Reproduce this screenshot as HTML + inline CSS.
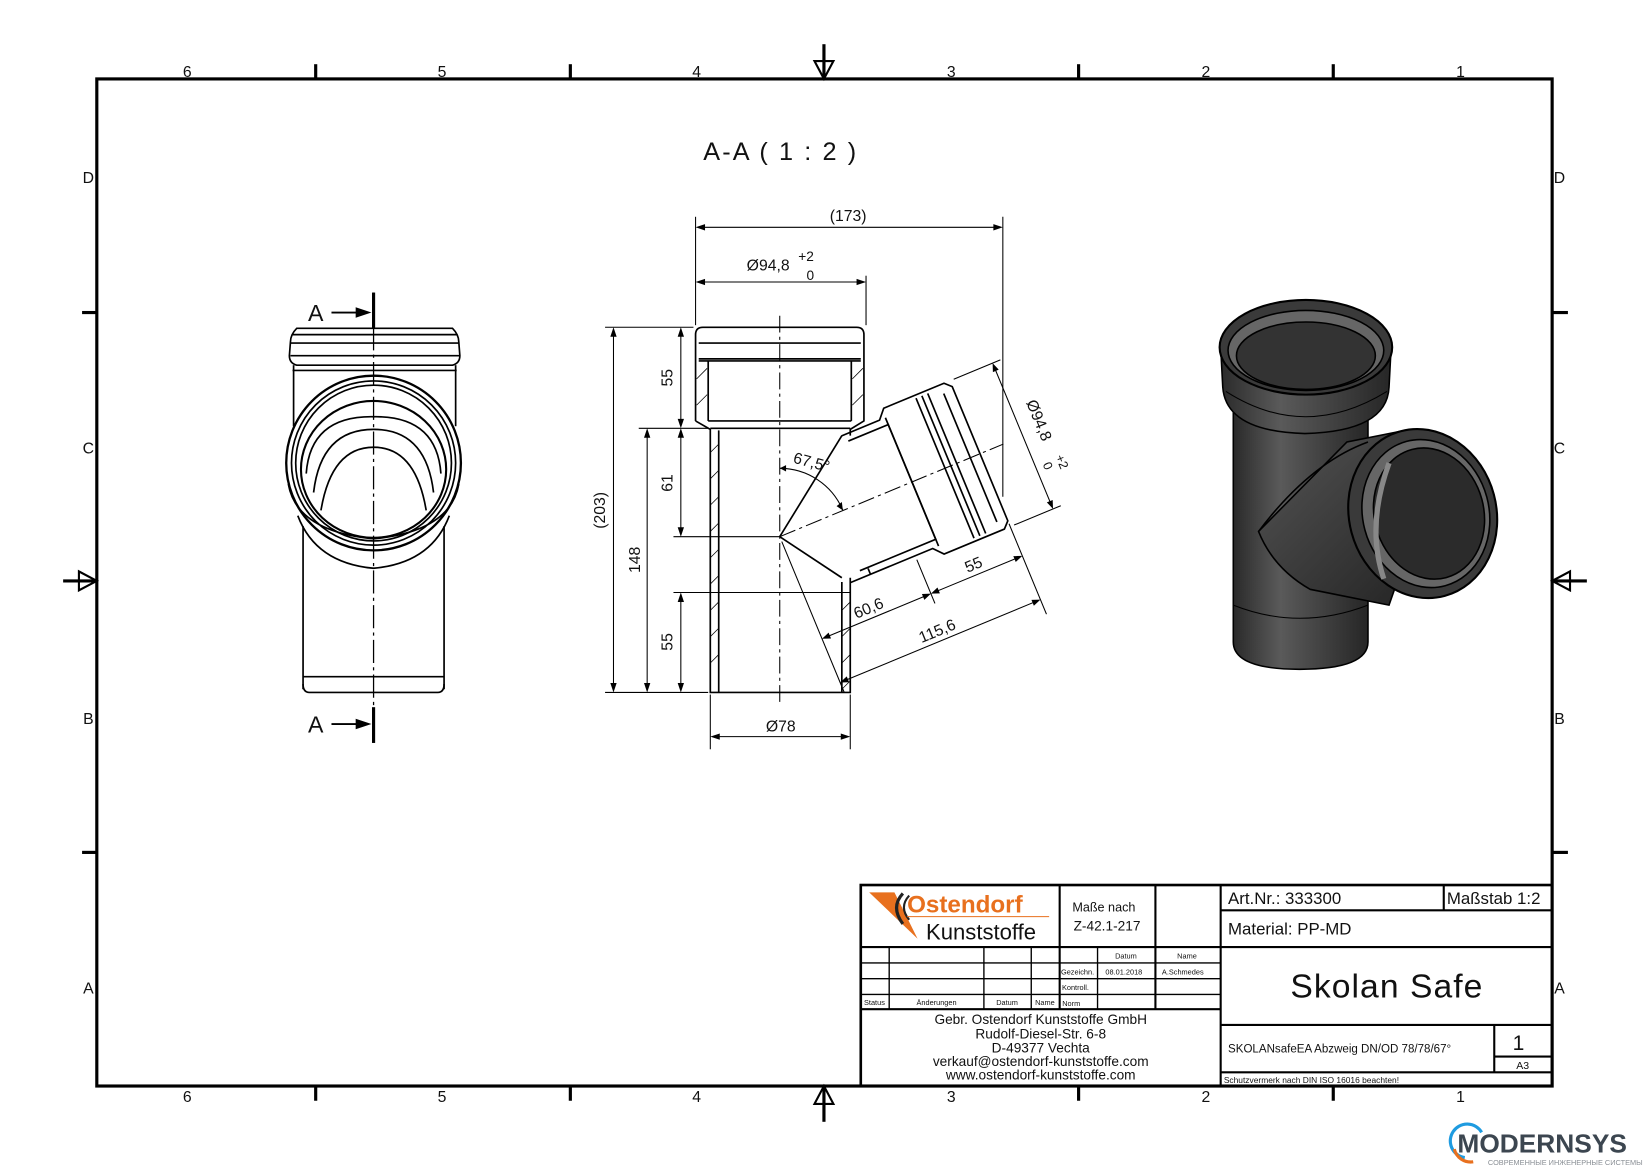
<!DOCTYPE html>
<html><head><meta charset="utf-8"><style>
html,body{margin:0;padding:0;background:#fff;}
svg{display:block;}
text{font-family:"Liberation Sans Narrow","Liberation Sans",sans-serif;fill:#111;}
</style></head><body>
<svg width="1650" height="1166" viewBox="0 0 1568 1108" preserveAspectRatio="none" xmlns="http://www.w3.org/2000/svg">
<defs>
<linearGradient id="gp" x1="0" x2="1" y1="0" y2="0"><stop offset="0" stop-color="#2a2a2a"/><stop offset="0.35" stop-color="#5a5a5a"/><stop offset="1" stop-color="#262626"/></linearGradient>
<linearGradient id="gb" x1="0" x2="1" y1="0" y2="1"><stop offset="0" stop-color="#555"/><stop offset="1" stop-color="#222"/></linearGradient>
</defs>
<rect x="92" y="75" width="1383" height="957" fill="none" stroke="#000" stroke-width="3"/>
<g stroke="#000" stroke-width="3">
<line x1="300" y1="61" x2="300" y2="75"/><line x1="542" y1="61" x2="542" y2="75"/><line x1="1025" y1="61" x2="1025" y2="75"/><line x1="1267" y1="61" x2="1267" y2="75"/>
<line x1="300" y1="1032" x2="300" y2="1046"/><line x1="542" y1="1032" x2="542" y2="1046"/><line x1="1025" y1="1032" x2="1025" y2="1046"/><line x1="1267" y1="1032" x2="1267" y2="1046"/>
<line x1="78" y1="297" x2="92" y2="297"/><line x1="78" y1="810" x2="92" y2="810"/><line x1="1475" y1="297" x2="1490" y2="297"/><line x1="1475" y1="810" x2="1490" y2="810"/>
<line x1="783" y1="42" x2="783" y2="75"/><line x1="783" y1="1032" x2="783" y2="1066"/><line x1="60" y1="552" x2="92" y2="552"/><line x1="1475" y1="552" x2="1508" y2="552"/>
</g>
<g fill="none" stroke="#000" stroke-width="2">
<path d="M774,58 L792,58 L783,75 Z"/><path d="M774,1049 L792,1049 L783,1032 Z"/><path d="M75,543 L75,561 L92,552 Z"/><path d="M1492,543 L1492,561 L1475,552 Z"/>
</g>
<g font-size="15" text-anchor="middle">
<text x="178" y="73">6</text><text x="420" y="73">5</text><text x="662" y="73">4</text><text x="904" y="73">3</text><text x="1146" y="73">2</text><text x="1388" y="73">1</text>
<text x="178" y="1047">6</text><text x="420" y="1047">5</text><text x="662" y="1047">4</text><text x="904" y="1047">3</text><text x="1146" y="1047">2</text><text x="1388" y="1047">1</text>
<text x="84" y="174">D</text><text x="84" y="431">C</text><text x="84" y="688">B</text><text x="84" y="944">A</text>
<text x="1482" y="174">D</text><text x="1482" y="431">C</text><text x="1482" y="688">B</text><text x="1482" y="944">A</text>
</g>
<text x="742" y="152" font-size="24" text-anchor="middle" letter-spacing="2">A-A ( 1 : 2 )</text>

<g fill="none" stroke="#000" stroke-width="1.6">
<path d="M282,312 L430,312 Q436,318 436,325 L437,338 Q437,345 430,347 L282,347 Q275,345 275,338 L276,325 Q276,318 282,312 Z"/>
<line x1="278" y1="318" x2="434" y2="318"/><line x1="276" y1="326" x2="436" y2="326"/><line x1="276" y1="338" x2="437" y2="338"/>
<line x1="278" y1="352" x2="434" y2="352"/>
<line x1="279" y1="347" x2="279" y2="405"/><line x1="433" y1="347" x2="433" y2="405"/>
<circle cx="355" cy="440" r="83" stroke-width="2.2"/>
<circle cx="355" cy="440" r="78"/><circle cx="355" cy="440" r="74"/>
<ellipse cx="355" cy="446" rx="69" ry="65" stroke-width="2"/>
<path d="M291,450 Q295,395 355,396 Q415,395 419,450"/>
<path d="M298,468 Q305,408 355,408 Q405,408 412,468"/>
<path d="M305,485 Q315,425 355,425 Q395,425 405,485"/>
<path d="M274,460 Q282,505 355,512 Q428,505 436,460"/>
<path d="M283,490 Q300,535 355,540 Q410,535 427,490"/>
<line x1="288" y1="500" x2="288" y2="655"/><line x1="422" y1="500" x2="422" y2="655"/>
<line x1="288" y1="643" x2="422" y2="643"/>
<path d="M288,650 Q288,658 294,658 L416,658 Q422,658 422,650"/>
</g>
<line x1="355" y1="278" x2="355" y2="706" stroke="#000" stroke-width="1.2" stroke-dasharray="22,4,3,4"/>
<g stroke="#000" stroke-width="3"><line x1="355" y1="278" x2="355" y2="312"/><line x1="355" y1="672" x2="355" y2="706"/></g>
<g stroke="#000" stroke-width="1.8"><line x1="315" y1="297" x2="340" y2="297"/><line x1="315" y1="688" x2="340" y2="688"/></g>
<path d="M338,292 L353,297 L338,302 Z M338,683 L353,688 L338,693 Z" fill="#000"/>
<text x="300" y="305" font-size="22" text-anchor="middle">A</text><text x="300" y="696" font-size="22" text-anchor="middle">A</text>

<g transform="translate(741,510) rotate(-22.5)">
<path d="M91,-66 L130,-66 L138,-75 L200,-75 L206,-69 L206,69 L200,75 L138,75 L130,66 L45,66 Z" fill="#fff" stroke="none"/>
<g fill="none" stroke="#000" stroke-width="1.6">
<path d="M91,-66 L130,-66 L138,-75 L200,-75 L206,-69 L206,69 L200,75 L138,75 L130,66 L45,66"/>
<path d="M95,-59 L136,-59 L136,59 L58,59"/>
<line x1="136" y1="-66" x2="136" y2="66"/>
<line x1="170" y1="-72" x2="170" y2="72"/><line x1="176" y1="-72" x2="176" y2="72"/><line x1="182" y1="-72" x2="182" y2="72"/>
<line x1="196" y1="-66" x2="196" y2="66"/>
<line x1="66" y1="60" x2="66" y2="66"/>
</g>
<line x1="0" y1="0" x2="230" y2="0" stroke="#000" stroke-width="1" stroke-dasharray="16,4,3,4"/>
<g stroke="#000" stroke-width="1" fill="none">
<line x1="0" y1="5" x2="0" y2="160"/><line x1="206" y1="72" x2="206" y2="165"/><line x1="112" y1="70" x2="112" y2="115"/>
<line x1="4" y1="150" x2="202" y2="150"/><line x1="4" y1="105" x2="108" y2="105"/><line x1="116" y1="105" x2="202" y2="105"/>
<line x1="210" y1="-75" x2="258" y2="-75"/><line x1="210" y1="75" x2="258" y2="75"/><line x1="250" y1="-71" x2="250" y2="71"/>
</g>
<g fill="#000">
<path d="M0,150 l8,-3 v6 Z M206,150 l-8,-3 v6 Z M0,105 l8,-3 v6 Z M112,105 l-8,-3 v6 Z M112,105 l8,-3 v6 Z M206,105 l-8,-3 v6 Z M250,-75 l-3,8 h6 Z M250,75 l-3,-8 h6 Z"/>
</g>
<text x="52" y="100" font-size="15" text-anchor="middle">60,6</text>
<text x="160" y="100" font-size="15" text-anchor="middle">55</text>
<text x="104" y="145" font-size="15" text-anchor="middle">115,6</text>
<g transform="translate(265,0) rotate(90)"><text x="-8" y="0" font-size="15" text-anchor="middle">Ø94,8</text><text x="30" y="-6" font-size="12">+2</text><text x="32" y="8" font-size="12">0</text></g>
</g>
<g fill="none" stroke="#000" stroke-width="1.6">
<path d="M661,400 L661,318 Q661,311 668,311 L814,311 Q821,311 821,318 L821,400 L808,408 L808,414"/>
<path d="M661,400 L675,408 L675,658 L808,658 L808,549"/>
<line x1="664" y1="326" x2="818" y2="326"/><line x1="664" y1="341" x2="818" y2="341"/><line x1="664" y1="343" x2="818" y2="343"/>
<line x1="673" y1="343" x2="673" y2="400"/><line x1="809" y1="343" x2="809" y2="400"/>
<line x1="673" y1="400" x2="809" y2="400"/><line x1="675" y1="407" x2="808" y2="407"/>
<line x1="683" y1="409" x2="683" y2="658"/><line x1="800" y1="553" x2="800" y2="658"/>
<line x1="741" y1="510" x2="800" y2="414"/><line x1="741" y1="510" x2="800" y2="549"/>
</g>
<g stroke="#000" stroke-width="0.7">
<path d="M675,430 l8,-8 M675,455 l8,-8 M675,480 l8,-8 M675,505 l8,-8 M675,530 l8,-8 M675,555 l8,-8 M675,580 l8,-8 M675,605 l8,-8 M675,630 l8,-8 M800,580 l8,-8 M800,605 l8,-8 M800,630 l8,-8 M800,655 l8,-8 M662,360 l10,-10 M662,385 l10,-10 M810,360 l10,-10 M810,385 l10,-10"/>
</g>
<line x1="741" y1="300" x2="741" y2="668" stroke="#000" stroke-width="1" stroke-dasharray="16,4,3,4"/>
<path d="M741,445 A65,65 0 0 1 801,485" fill="none" stroke="#000" stroke-width="1"/>
<path d="M741,445 l6,-3 v6 Z M801,485 l-1,-8 l-5,4 Z" fill="#000"/>
<text x="770" y="444" font-size="15" text-anchor="middle" transform="rotate(15 770 444)">67,5°</text>
<g stroke="#000" stroke-width="1" fill="none">
<line x1="661" y1="206" x2="661" y2="309"/><line x1="953" y1="206" x2="953" y2="472"/><line x1="665" y1="216" x2="949" y2="216"/>
<line x1="823" y1="262" x2="823" y2="309"/><line x1="665" y1="268" x2="819" y2="268"/>
<line x1="575" y1="311" x2="659" y2="311"/><line x1="575" y1="658" x2="673" y2="658"/>
<line x1="607" y1="407" x2="673" y2="407"/><line x1="640" y1="510" x2="741" y2="510"/><line x1="640" y1="563" x2="808" y2="563"/>
<line x1="583" y1="315" x2="583" y2="654"/><line x1="615" y1="411" x2="615" y2="654"/>
<line x1="647" y1="315" x2="647" y2="403"/><line x1="647" y1="411" x2="647" y2="506"/><line x1="647" y1="567" x2="647" y2="654"/>
<line x1="675" y1="660" x2="675" y2="712"/><line x1="808" y1="660" x2="808" y2="712"/><line x1="679" y1="700" x2="804" y2="700"/>
</g>
<g fill="#000">
<path d="M661,216 l9,-3 v6 Z M953,216 l-9,-3 v6 Z M661,268 l9,-3 v6 Z M823,268 l-9,-3 v6 Z"/>
<path d="M583,311 l-3,9 h6 Z M583,658 l-3,-9 h6 Z M615,407 l-3,9 h6 Z M615,658 l-3,-9 h6 Z"/>
<path d="M647,311 l-3,9 h6 Z M647,407 l-3,-9 h6 Z M647,407 l-3,9 h6 Z M647,510 l-3,-9 h6 Z M647,563 l-3,9 h6 Z M647,658 l-3,-9 h6 Z"/>
<path d="M675,700 l9,-3 v6 Z M808,700 l-9,-3 v6 Z"/>
</g>
<g font-size="15" text-anchor="middle">
<text x="806" y="210">(173)</text>
<text x="730" y="257">Ø94,8</text><text x="766" y="248" font-size="13">+2</text><text x="770" y="266" font-size="13">0</text>
<text x="742" y="695">Ø78</text>
<text transform="translate(575,485) rotate(-90)">(203)</text>
<text transform="translate(608,532) rotate(-90)">148</text>
<text transform="translate(639,359) rotate(-90)">55</text>
<text transform="translate(639,459) rotate(-90)">61</text>
<text transform="translate(639,610) rotate(-90)">55</text>
</g>

<g stroke="#000" stroke-width="1.5">
<path d="M1172,360 L1172,610 Q1172,636 1235,636 Q1300,636 1300,610 L1300,360 Z" fill="url(#gp)"/>
<path d="M1172,575 Q1235,600 1300,575" fill="none" stroke-width="1"/>
<path d="M1160,330 L1162,368 Q1165,410 1240,412 Q1318,410 1320,368 L1322,330 Z" fill="url(#gp)"/>
<path d="M1165,372 Q1240,420 1318,372" fill="none" stroke-width="1"/>
<ellipse cx="1241" cy="330" rx="82" ry="45" fill="#3a3a3a" stroke-width="2"/>
<ellipse cx="1241" cy="333" rx="74" ry="38" fill="#666"/>
<ellipse cx="1241" cy="338" rx="66" ry="32" fill="#333"/>
<path d="M1196,505 L1280,420 L1330,410 L1360,460 L1320,575 L1245,560 Q1210,540 1196,505 Z" fill="url(#gb)"/>
<path d="M1196,505 Q1245,440 1300,420" fill="none"/>
<ellipse cx="1352" cy="488" rx="70" ry="81" fill="#3a3a3a" stroke-width="2" transform="rotate(-15 1352 488)"/>
<ellipse cx="1355" cy="488" rx="60" ry="71" fill="#666" transform="rotate(-15 1355 488)"/>
<ellipse cx="1358" cy="488" rx="52" ry="63" fill="#2b2b2b" transform="rotate(-15 1358 488)"/>
<path d="M1320,440 Q1298,500 1315,550" fill="none" stroke="#888" stroke-width="5"/>
</g>

<g fill="none" stroke="#000">
<rect x="818" y="841" width="657" height="191" stroke-width="2.5"/>
<g stroke-width="2">
<line x1="818" y1="900" x2="1160" y2="900"/><line x1="818" y1="959" x2="1160" y2="959"/>
<line x1="1007" y1="841" x2="1007" y2="959"/><line x1="1098" y1="841" x2="1098" y2="959"/><line x1="1160" y1="841" x2="1160" y2="1032"/>
<line x1="1160" y1="865" x2="1475" y2="865"/><line x1="1160" y1="900" x2="1475" y2="900"/><line x1="1160" y1="974" x2="1475" y2="974"/>
<line x1="1160" y1="1019" x2="1475" y2="1019"/><line x1="1372" y1="841" x2="1372" y2="865"/>
<line x1="1420" y1="974" x2="1420" y2="1019"/><line x1="1420" y1="1004" x2="1475" y2="1004"/>
</g>
<g stroke-width="1.3">
<line x1="818" y1="915" x2="1160" y2="915"/><line x1="818" y1="930" x2="1160" y2="930"/><line x1="818" y1="945" x2="1160" y2="945"/>
<line x1="845" y1="900" x2="845" y2="959"/><line x1="935" y1="900" x2="935" y2="959"/><line x1="980" y1="900" x2="980" y2="959"/><line x1="1043" y1="900" x2="1043" y2="959"/>
</g>
</g>
<path d="M826,848 L850,848 L872,892 Z" fill="#e8701e"/>
<path d="M858,849 Q846,862 858,878" fill="none" stroke="#222" stroke-width="3"/>
<path d="M864,851 Q854,862 864,874" fill="none" stroke="#222" stroke-width="2"/>
<text x="862" y="867" font-size="23" style="fill:#e8701e;font-weight:bold">Ostendorf</text>
<line x1="862" y1="871" x2="997" y2="871" stroke="#e8701e" stroke-width="1"/>
<text x="880" y="893" font-size="21">Kunststoffe</text>
<text x="1049" y="866" font-size="12" text-anchor="middle">Maße nach</text>
<text x="1052" y="884" font-size="13" text-anchor="middle">Z-42.1-217</text>
<g font-size="7" text-anchor="middle"><text x="1070" y="911">Datum</text><text x="1128" y="911">Name</text>
<text x="1024" y="926">Gezeichn.</text><text x="1068" y="926">08.01.2018</text><text x="1124" y="926">A.Schmedes</text>
<text x="1022" y="941">Kontroll.</text><text x="1018" y="956">Norm</text>
<text x="831" y="955">Status</text><text x="890" y="955">Änderungen</text><text x="957" y="955">Datum</text><text x="993" y="955">Name</text></g>
<g font-size="13" text-anchor="middle">
<text x="989" y="973">Gebr. Ostendorf Kunststoffe GmbH</text>
<text x="989" y="987">Rudolf-Diesel-Str. 6-8</text>
<text x="989" y="1000">D-49377 Vechta</text>
<text x="989" y="1013">verkauf@ostendorf-kunststoffe.com</text>
<text x="989" y="1026">www.ostendorf-kunststoffe.com</text>
</g>
<text x="1167" y="859" font-size="16">Art.Nr.: 333300</text>
<text x="1375" y="859" font-size="16">Maßstab 1:2</text>
<text x="1167" y="888" font-size="16">Material: PP-MD</text>
<text x="1318" y="948" font-size="32" text-anchor="middle" letter-spacing="1">Skolan Safe</text>
<text x="1167" y="1000" font-size="11">SKOLANsafeEA Abzweig DN/OD 78/78/67°</text>
<text x="1443" y="998" font-size="20" text-anchor="middle">1</text>
<text x="1447" y="1016" font-size="10" text-anchor="middle">A3</text>
<text x="1163" y="1029" font-size="8">Schutzvermerk nach DIN ISO 16016 beachten!</text>

<path d="M1392,1100 A16,16 0 1 1 1408,1076" fill="none" stroke="#1e9be0" stroke-width="3"/>
<path d="M1382,1092 A16,16 0 0 0 1400,1104" fill="none" stroke="#e8701e" stroke-width="3"/>
<text x="1385" y="1095" font-size="25" style="fill:#3c4650;font-weight:bold" font-family="Liberation Sans">MODERNSYS</text>
<text x="1414" y="1107" font-size="7" style="fill:#8a8f95">СОВРЕМЕННЫЕ ИНЖЕНЕРНЫЕ СИСТЕМЫ</text>
</svg>
</body></html>
